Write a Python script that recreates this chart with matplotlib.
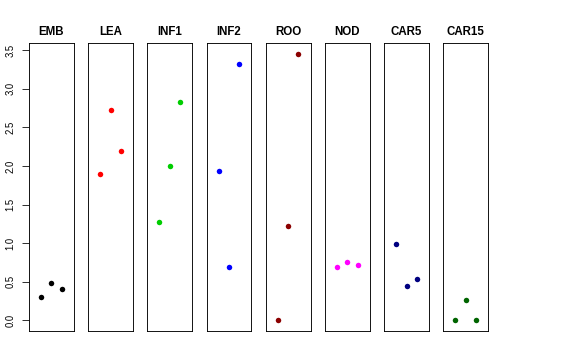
import matplotlib
matplotlib.use('Agg')
import matplotlib.pyplot as plt

tissues = ['EMB', 'LEA', 'INF1', 'INF2', 'ROO', 'NOD', 'CAR5', 'CAR15']
colors = ['black', 'red', '#00CD00', 'blue', '#8B0000', 'magenta', '#000080', '#006400']
values = [
    [0.30, 0.49, 0.40],
    [1.89, 2.73, 2.19],
    [1.27, 2.00, 2.83],
    [1.93, 0.69, 3.32],
    [0.00, 1.22, 3.45],
    [0.69, 0.75, 0.72],
    [0.99, 0.44, 0.54],
    [0.00, 0.26, 0.00],
]
reps = [1, 2, 3]

plt.rcParams['font.family'] = ['Liberation Sans', 'DejaVu Sans']
W, H = 576, 360
fig = plt.figure(figsize=(W / 72, H / 72), dpi=72)

left0, step, pw = 29, 59.2, 44.7
bottom, top = 331, 43.3
ylim = (-0.138, 3.59)

for i, (name, col, vals) in enumerate(zip(tissues, colors, values)):
    x0 = left0 + step * i
    ax = fig.add_axes([x0 / W, 1 - bottom / H, pw / W, (bottom - top) / H])
    ax.scatter(reps, vals, s=30, color=col, zorder=3, linewidths=0)
    ax.set_xlim(-0.16, 4.16)
    ax.set_ylim(*ylim)
    ax.set_xticks([])
    for sp in ax.spines.values():
        sp.set_linewidth(0.9)
    ax.set_title(name, fontsize=11.5, fontweight='bold', pad=8)
    if i == 0:
        ax.set_yticks([0, 0.5, 1, 1.5, 2, 2.5, 3, 3.5])
        ax.set_yticklabels(['0.0', '0.5', '1.0', '1.5', '2.0', '2.5', '3.0', '3.5'],
                           rotation=90, va='center', fontsize=9.5)
        ax.tick_params(axis='y', length=7.5, width=0.8, pad=6)
    else:
        ax.set_yticks([])

fig.savefig('out.png', dpi=72)
